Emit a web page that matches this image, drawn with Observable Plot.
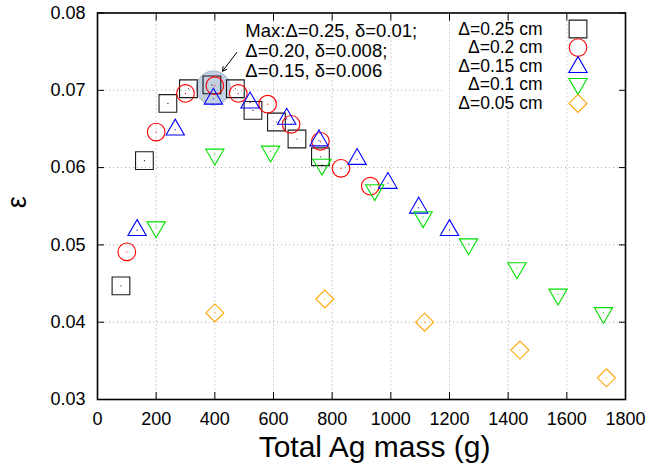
<!DOCTYPE html>
<html>
<head>
<meta charset="utf-8">
<script src="https://cdn.jsdelivr.net/npm/d3@7"></script>
<script src="https://cdn.jsdelivr.net/npm/@observablehq/plot@0.6"></script>
<style>
  html, body { margin: 0; padding: 0; background: #fff; }
  #chart { width: 651px; height: 464px; }
</style>
</head>
<body>
<div id="chart"></div>
<script>
// ---- data ----
const seriesLabels = ["Δ=0.25 cm", "Δ=0.2 cm", "Δ=0.15 cm", "Δ=0.1 cm", "Δ=0.05 cm"];

const mass025 = [80, 160, 240, 310, 390, 470, 530, 610, 680, 760];
const eps025  = [0.0447, 0.0609, 0.0683, 0.0702, 0.0707, 0.0702, 0.0674, 0.0659, 0.0637, 0.0614];

const mass02 = [100, 200, 300, 400, 480, 580, 660, 760, 830, 930];
const eps02  = [0.0491, 0.0646, 0.0696, 0.0706, 0.0696, 0.0682, 0.0656, 0.0634, 0.0599, 0.0576];

const mass015 = [135, 265, 395, 520, 645, 755, 885, 990, 1095, 1200];
const eps015  = [0.0519, 0.0649, 0.0689, 0.0684, 0.0663, 0.0635, 0.0611, 0.0580, 0.0548, 0.0519];

const mass01 = [200, 400, 590, 765, 945, 1110, 1265, 1430, 1570, 1725];
const eps01  = [0.0523, 0.0617, 0.0621, 0.0604, 0.0571, 0.0536, 0.0501, 0.0470, 0.0436, 0.0412];

const mass005 = [400, 775, 1115, 1440, 1735];
const eps005  = [0.0412, 0.0430, 0.0400, 0.0364, 0.0328];

const xTicks = [0, 200, 400, 600, 800, 1000, 1200, 1400, 1600, 1800];
const yTicks = [0.03, 0.04, 0.05, 0.06, 0.07, 0.08];

const maxPoint = [{mass: 395, eps: 0.0703}];
const annotationText = "Max:Δ=0.25, δ=0.01;\nΔ=0.20, δ=0.008;\nΔ=0.15, δ=0.006";
const annotationAnchor = [{mass: 504, eps: 0.0788}];
const arrowData = [{mass1: 475, eps1: 0.0749, mass2: 426, eps2: 0.07247}];

// ---- build ----
const seriesDefs = [
  {label: seriesLabels[0], xs: mass025, ys: eps025, symbol: "square",   r: 10,  rotate: 0,   color: "#1a1a1a"},
  {label: seriesLabels[1], xs: mass02,  ys: eps02,  symbol: "circle",   r: 8.8, rotate: 0,   color: "#ff0000"},
  {label: seriesLabels[2], xs: mass015, ys: eps015, symbol: "triangle", r: 6.8, rotate: 0,   color: "#0000ff"},
  {label: seriesLabels[3], xs: mass01,  ys: eps01,  symbol: "triangle", r: 6.8, rotate: 180, color: "#00e000"},
  {label: seriesLabels[4], xs: mass005, ys: eps005, symbol: "diamond2", r: 8.1, rotate: 0,   color: "#ffa500"}
];
const seriesData = seriesDefs.map(s => s.xs.map((x, i) => ({mass: x, eps: s.ys[i]})));

const gridStyle = {stroke: "#a8a8a8", strokeOpacity: 1, strokeDasharray: "1,3", strokeWidth: 1};

const marks = [
  Plot.gridX(xTicks, gridStyle),
  Plot.gridY(yTicks.filter(t => t !== 0.07), gridStyle),
  Plot.ruleY([0.07], {x1: 0, x2: 1175, ...gridStyle}),
  Plot.axisX(xTicks, {anchor: "bottom", tickSize: -7, tickPadding: 20, tickFormat: d3.format("d"), label: null, fontSize: 18}),
  Plot.axisX(xTicks, {anchor: "top", tickSize: -7, tickFormat: () => "", label: null}),
  Plot.axisY(yTicks, {anchor: "left", tickSize: -7, tickPadding: 19, tickFormat: d3.format(".2f"), label: null, fontSize: 18}),
  Plot.axisY(yTicks, {anchor: "right", tickSize: -7, tickFormat: () => "", label: null}),
  Plot.dot(maxPoint, {x: "mass", y: "eps", r: 17, fill: "#b8c8dc", fillOpacity: 0.85, stroke: "#a3b7d0", strokeWidth: 1})
];

seriesDefs.forEach((s, i) => {
  marks.push(Plot.dot(seriesData[i], {x: "mass", y: "eps", symbol: () => s.symbol, r: s.r, rotate: s.rotate,
    stroke: s.color, fill: "none", strokeWidth: 1.1}));
  marks.push(Plot.dot(seriesData[i], {x: "mass", y: "eps", r: 0.6, fill: s.color, stroke: "none"}));
  // legend entry
  marks.push(Plot.text([s.label], {text: d => d, frameAnchor: "top-right", dx: -83, dy: 16 + i * 18.6,
    textAnchor: "end", lineAnchor: "middle", fontSize: 17.5, fill: "#000"}));
  marks.push(Plot.dot([s.label], {frameAnchor: "top-right", dx: -47.5, dy: 16 + i * 18.6 + (s.symbol === "triangle" ? (s.rotate ? -1 : 1) : 0),
    symbol: () => s.symbol, r: s.r, rotate: s.rotate, stroke: s.color, fill: "none", strokeWidth: 1.1}));
});

marks.push(
  Plot.arrow(arrowData, {x1: "mass1", y1: "eps1", x2: "mass2", y2: "eps2", stroke: "#000", strokeWidth: 1, headLength: 7, bend: 0}),
  Plot.text(annotationAnchor, {x: "mass", y: "eps", text: () => annotationText, textAnchor: "start", lineAnchor: "top",
    lineHeight: 1.1, fontSize: 18.5, fill: "#000"}),
  Plot.text(["Total Ag mass (g)"], {text: d => d, frameAnchor: "bottom", dx: 13, dy: 47.5, lineAnchor: "middle", fontSize: 30, fill: "#000"}),
  Plot.text(["ε"], {text: d => d, frameAnchor: "left", dx: -80, dy: 2, rotate: -90, lineAnchor: "middle", fontSize: 27, fontWeight: "normal", fill: "#000"}),
  Plot.frame({stroke: "#000", strokeWidth: 1.6})
);

const chart = Plot.plot({
  width: 651,
  height: 464,
  marginLeft: 97,
  marginRight: 26,
  marginTop: 12.5,
  marginBottom: 65,
  style: {fontFamily: "'Liberation Sans', Helvetica, Arial, sans-serif", fontSize: "17px", color: "#000", background: "#fff", overflow: "visible"},
  x: {domain: [0, 1800], axis: null},
  y: {domain: [0.03, 0.08], axis: null},
  marks
});
document.getElementById("chart").appendChild(chart);
</script>
</body>
</html>
